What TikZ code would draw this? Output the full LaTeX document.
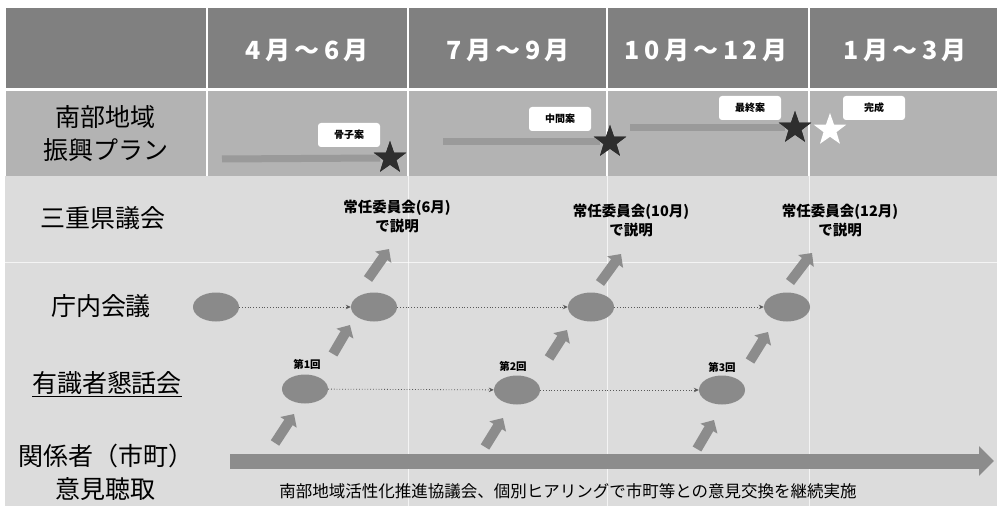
\documentclass[tikz,border=0pt]{standalone}
\usepackage{fontspec}
\setmainfont{Noto Sans CJK JP}
\newfontfamily\hdrfont[LetterSpace=18]{Noto Sans CJK JP}
\usetikzlibrary{shapes.geometric,arrows.meta}
\definecolor{hdr}{HTML}{808080}
\definecolor{rowtwo}{HTML}{B3B3B3}
\definecolor{bodygray}{HTML}{DCDCDC}
\definecolor{ellgray}{HTML}{8A8A8A}
\definecolor{arrgray}{HTML}{8C8C8C}
\definecolor{bargray}{HTML}{9A9A9A}
\definecolor{stardark}{HTML}{2E2E2E}
\tikzset{
  hdrtext/.style={text=white, font=\hdrfont\fontsize{25}{30}\selectfont\bfseries, inner sep=0pt},
  rowlabel/.style={font=\fontsize{25}{33}\selectfont, align=center, inner sep=0pt},
  tag/.style={fill=white, rounded corners=3pt, minimum width=62pt, minimum height=24pt, font=\fontsize{10}{12}\selectfont\bfseries, inner sep=0pt},
  mstar/.style={star, star points=5, star point ratio=2.5, minimum size=34pt, inner sep=0pt, fill=stardark},
  meet/.style={ellipse, fill=ellgray, minimum width=46pt, minimum height=29pt, inner sep=0pt},
  committee/.style={font=\fontsize{14.5}{19}\selectfont\bfseries, align=center, inner sep=0pt},
  roundlabel/.style={font=\fontsize{10.5}{12}\selectfont\bfseries, inner sep=0pt},
  dots/.style={dotted, line width=0.8pt, draw=black!65, -{Stealth[length=5pt,width=4.5pt]}},
  fat/.style={line width=10pt, draw=arrgray, -{Triangle[length=10pt,width=19pt]}},
  bigarrow/.style={line width=15pt, draw=arrgray, -{Triangle[length=15pt,width=29pt]}},
  planbar/.style={line width=7pt, draw=bargray},
  sepline/.style={white, line width=1.8pt},
  faintline/.style={white, line width=1pt, opacity=0.7}
}
\begin{document}
\begin{tikzpicture}[x=1pt,y=-1pt]
\useasboundingbox (0,0) rectangle (997,508);
\fill[white] (0,0) rectangle (997,508);
% backgrounds
\fill[bodygray] (5,176) rectangle (997,506);
\fill[hdr] (6,8) rectangle (997,88);
\fill[rowtwo] (6,91) rectangle (997,176);
\draw[sepline] (6,89.5) -- (997,89.5);
\foreach \x in {207,408,607,809} \draw[sepline] (\x,8) -- (\x,176);
\foreach \x in {408,607,809} \draw[faintline] (\x,176) -- (\x,506);
\draw[faintline] (5,262) -- (997,262);

% header
\node[hdrtext] (h1) at (307,51) {4月～6月};
\node[hdrtext] (h2) at (508,51) {7月～9月};
\node[hdrtext] (h3) at (706,51) {10月～12月};
\node[hdrtext] (h4) at (905,51) {1月～3月};

% row labels
\node[rowlabel] (lplan) at (106,134) {南部地域\\振興プラン};
\node[rowlabel] (lgikai) at (103,218) {三重県議会};
\node[rowlabel] (lchonai) at (101,306) {庁内会議};
\node[rowlabel] (lyushiki) at (107,384) {\underline{有識者懇話会}};
\node[rowlabel] (lkankei) at (106,472) {関係者（市町）\\意見聴取};

% plan row
\node[mstar] (s1) at (390,158) {};
\node[mstar] (s2) at (610,142) {};
\node[mstar] (s3) at (795,128) {};
\node[mstar, fill=white] (s4) at (830,130) {};
\coordinate (b1s) at (222,159);
\coordinate (b2s) at (443,142);
\coordinate (b3s) at (630,128);
\draw[planbar] (b1s) -- (s1.west);
\draw[planbar] (b2s) -- (s2.west);
\draw[planbar] (b3s) -- (s3.west);
\node[mstar] at (s1) {};
\node[mstar] at (s2) {};
\node[mstar] at (s3) {};
\node[tag] (t1) at (349,135) {骨子案};
\node[tag] (t2) at (560,119) {中間案};
\node[tag] (t3) at (750,108) {最終案};
\node[tag] (t4) at (874,108) {完成};

% committee texts
\node[committee] (c1) at (397,217) {常任委員会(6月)\\で説明};
\node[committee] (c2) at (631,221) {常任委員会(10月)\\で説明};
\node[committee] (c3) at (840,221) {常任委員会(12月)\\で説明};

% internal meetings
\node[meet] (e1) at (216,307) {};
\node[meet] (e2) at (374,307) {};
\node[meet] (e3) at (591,307) {};
\node[meet] (e4) at (787,307) {};
\draw[dots] (e1) -- (e2);
\draw[dots] (e2) -- (e3);
\draw[dots] (e3) -- (e4);

% expert meetings
\node[meet] (e5) at (305,389) {};
\node[meet] (e6) at (517,390) {};
\node[meet] (e7) at (722,390) {};
\node[roundlabel] (r1) at (307,364) {第1回};
\node[roundlabel] (r2) at (513,366) {第2回};
\node[roundlabel] (r3) at (722,367) {第3回};
\draw[dots] (e5) -- (e6);
\draw[dots] (e6) -- (e7);

% block arrows
\coordinate (a1s) at (368,279); \coordinate (a1e) at (389,249);
\coordinate (a2s) at (600,283); \coordinate (a2e) at (621,254);
\coordinate (a3s) at (790,282); \coordinate (a3e) at (812,253);
\coordinate (a4s) at (333,354); \coordinate (a4e) at (350,325);
\coordinate (a5s) at (549,358); \coordinate (a5e) at (567,330);
\coordinate (a6s) at (750,361); \coordinate (a6e) at (768,332);
\coordinate (a7s) at (275,443); \coordinate (a7e) at (294,414);
\coordinate (a8s) at (485,447); \coordinate (a8e) at (503,418);
\coordinate (a9s) at (697,449); \coordinate (a9e) at (714,420);
\foreach \i in {1,...,9} \draw[fat] (a\i s) -- (a\i e);

% big arrow
\coordinate (bs) at (230,461);
\coordinate (be) at (994,461);
\draw[bigarrow] (bs) -- (be);
\node[font=\fontsize{16.5}{20}\selectfont, inner sep=0pt] (note) at (568,491) {南部地域活性化推進協議会、個別ヒアリングで市町等との意見交換を継続実施};
\end{tikzpicture}
\end{document}
